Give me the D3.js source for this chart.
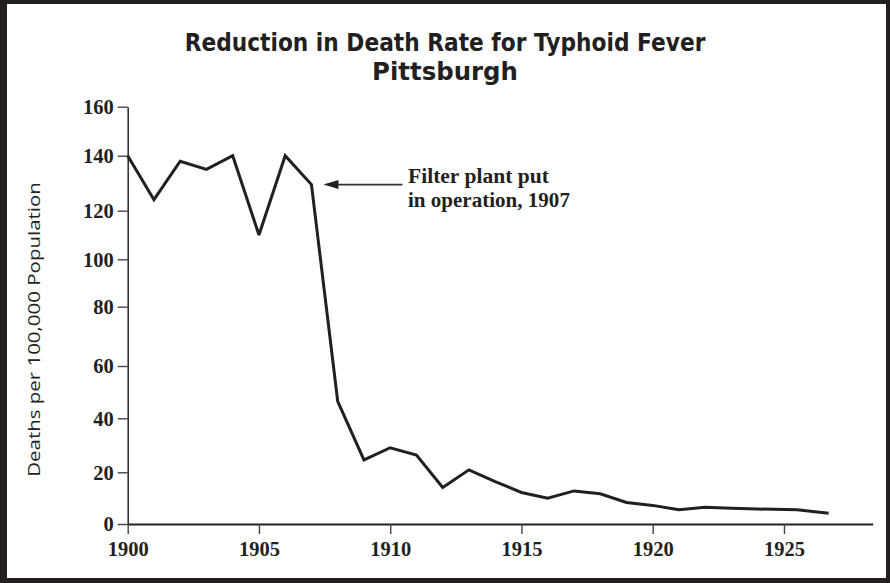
<!DOCTYPE html>
<html>
<head>
<meta charset="utf-8">
<script src="https://cdn.jsdelivr.net/npm/d3@7"></script>
<style>
  html, body { margin: 0; padding: 0; background: #fff; }
  svg { display: block; }
</style>
</head>
<body>
<svg id="chart" width="890" height="583"></svg>
<script>
// ---- Data ----
const titleLines = ["Reduction in Death Rate for Typhoid Fever", "Pittsburgh"];
const yAxisLabel = "Deaths per 100,000 Population";
const annotationLines = ["Filter plant put", "in operation, 1907"];
const years = [1900, 1901, 1902, 1903, 1904, 1905, 1906, 1907, 1908, 1909,
               1910, 1911, 1912, 1913, 1914, 1915, 1916, 1917, 1918, 1919,
               1920, 1921, 1922, 1923, 1924, 1925.5, 1926.7];
const deathRates = [140, 124, 138, 135, 140, 110, 140, 129.5, 46.5, 24.6,
                    29.1, 26.4, 14.1, 20.9, 16.4, 12.2, 10, 12.8, 11.7, 8.3,
                    7.2, 5.5, 6.5, 6.1, 5.8, 5.5, 4.2];
const xTicks = [1900, 1905, 1910, 1915, 1920, 1925];
const yTicks = [0, 20, 40, 60, 80, 100, 120, 140, 160];
const annotationYear = 1907;
const annotationValue = 129.5;

// ---- Layout ----
const W = 890, H = 583;
const svg = d3.select("#chart");
const ink = "#231f20";

// frame
svg.append("rect").attr("x", 0).attr("y", 0).attr("width", W).attr("height", H).attr("fill", ink);
svg.append("rect").attr("x", 7).attr("y", 4).attr("width", W - 11).attr("height", H - 9).attr("fill", "#fff");

// scales (hand-drawn axis: tick positions are slightly irregular)
const x = d3.scaleLinear().domain([1900, 1928.38]).range([127.7, 872.7]);
const y = d3.scaleLinear()
  .domain(yTicks)
  .range([524, 472.3, 418.3, 366, 306.7, 259.3, 210.7, 155.7, 106.7]);

// place a text of given font-size, squeezed horizontally to a target width
function fittedText(parent, str, px, py, size, target, anchor) {
  const g = parent.append("g").attr("transform", `translate(${px},${py})`);
  const t = g.append("text").attr("x", 0).attr("y", 0)
    .attr("font-size", size).attr("text-anchor", anchor || "start").text(str);
  const len = t.node().getComputedTextLength();
  t.attr("transform", `scale(${(target / len).toFixed(4)},1)`);
  return t;
}

// title
const title = svg.append("g")
  .attr("font-family", "'DejaVu Sans', sans-serif")
  .attr("font-weight", "bold")
  .attr("fill", ink);
fittedText(title, titleLines[0], 445, 51, 24, 521, "middle");
fittedText(title, titleLines[1], 445, 80, 24, 146, "middle");

// axes
const serif = "'Liberation Serif', 'Times New Roman', serif";
const yAxis = d3.axisLeft(y).tickValues(yTicks).tickSize(10).tickSizeOuter(0).tickPadding(4);
const xAxis = d3.axisBottom(x).tickValues(xTicks).tickSize(10).tickSizeOuter(0).tickPadding(7)
  .tickFormat(d3.format("d"));

const gy = svg.append("g").attr("transform", `translate(${x(1900)},0)`).call(yAxis);
const gx = svg.append("g").attr("transform", `translate(0,${y(0)})`).call(xAxis);

[gy, gx].forEach(g => {
  g.select(".domain").attr("stroke", "#333").attr("stroke-width", 1.6);
  g.selectAll(".tick line").attr("stroke", "#444").attr("stroke-width", 1.4);
  g.selectAll(".tick text")
    .attr("font-family", serif)
    .attr("font-weight", "bold")
    .attr("font-size", 20.5)
    .attr("fill", ink);
});
gx.select(".domain").attr("stroke", "#222").attr("stroke-width", 2);
gx.selectAll(".tick text").attr("dy", "0.71em");
gy.selectAll(".tick text").attr("dy", "0.34em");

// y axis label
const yl = svg.append("g")
  .attr("transform", `translate(40,${(182 + 477) / 2}) rotate(-90)`)
  .attr("font-family", "'Open Sans', 'Noto Sans', sans-serif")
  .attr("fill", ink);
fittedText(yl, yAxisLabel, 0, 0, 16.5, 295, "middle");

// data line
const pts = years.map((yr, i) => ({ year: yr, value: deathRates[i] }));
const line = d3.line().x(d => x(d.year)).y(d => y(d.value));
svg.append("path")
  .datum(pts)
  .attr("d", line)
  .attr("fill", "none")
  .attr("stroke", ink)
  .attr("stroke-width", 3)
  .attr("stroke-linejoin", "miter")
  .attr("stroke-miterlimit", 3);

// annotation arrow
const ax = x(annotationYear) + 12, ay = y(annotationValue);
svg.append("line")
  .attr("x1", ax + 12).attr("y1", ay)
  .attr("x2", ax + 79).attr("y2", ay)
  .attr("stroke", "#333").attr("stroke-width", 1.6);
svg.append("path")
  .attr("d", `M${ax},${ay} L${ax + 15},${ay - 4.5} L${ax + 15},${ay + 4.5} Z`)
  .attr("fill", ink);

const ann = svg.append("g")
  .attr("font-family", serif)
  .attr("font-weight", "bold")
  .attr("fill", ink);
fittedText(ann, annotationLines[0], 408, 183, 21, 141);
fittedText(ann, annotationLines[1], 408, 207, 21, 162);
</script>
</body>
</html>
